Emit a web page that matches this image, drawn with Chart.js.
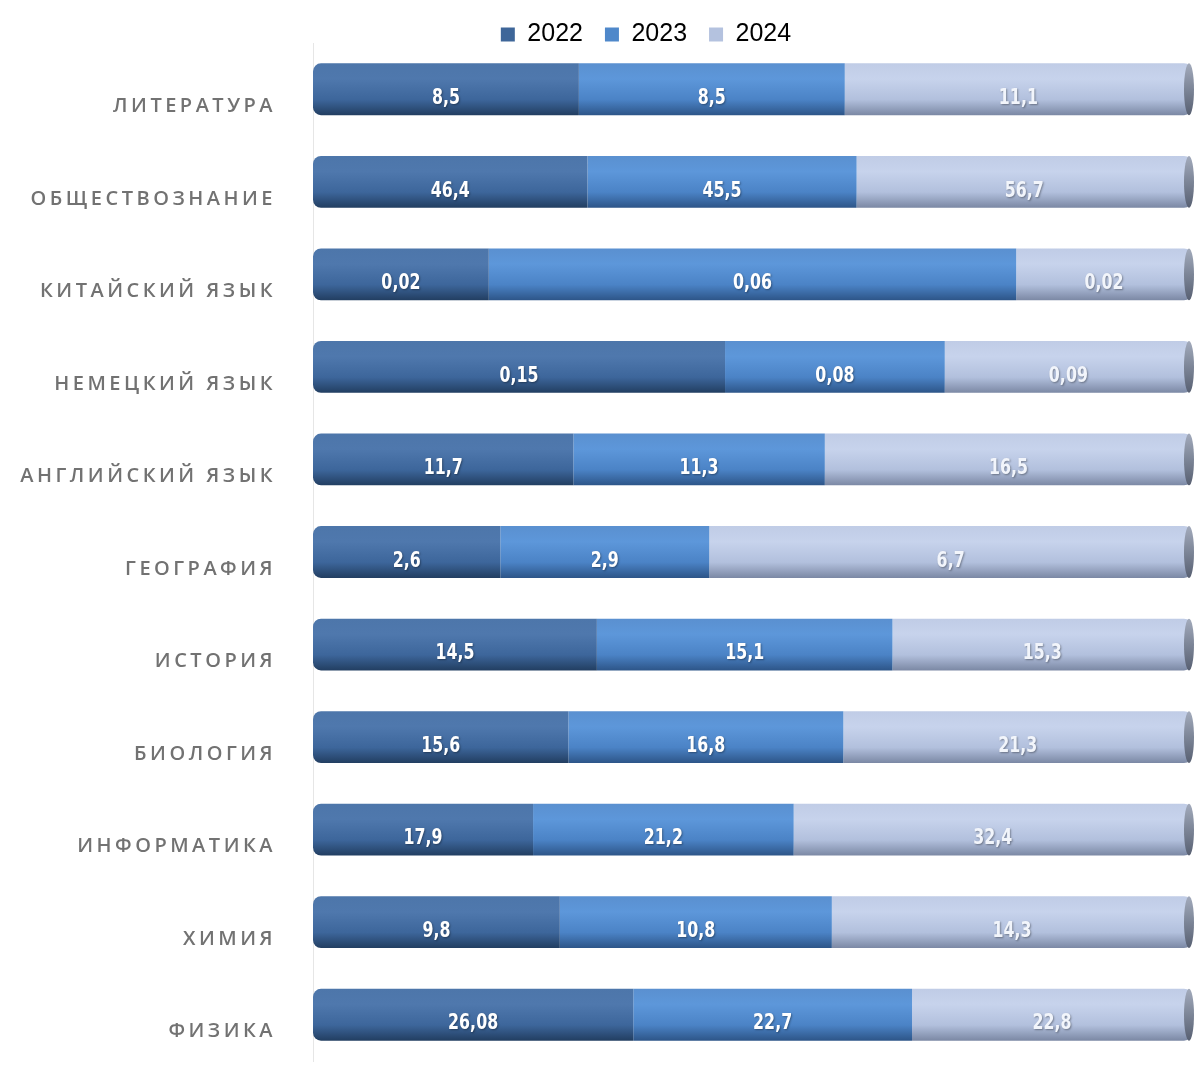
<!DOCTYPE html>
<html>
<head>
<meta charset="utf-8">
<script src="https://cdn.jsdelivr.net/npm/chart.js@4.4.1/dist/chart.umd.min.js"></script>
<style>
  html, body { margin: 0; background: #fff; }
  #wrap { width: 1196px; height: 1070px; }
</style>
</head>
<body>
<div id="wrap"><canvas id="chart"></canvas></div>
<script>
// categories, top to bottom
const subjects = ['ЛИТЕРАТУРА', 'ОБЩЕСТВОЗНАНИЕ', 'КИТАЙСКИЙ ЯЗЫК', 'НЕМЕЦКИЙ ЯЗЫК', 'АНГЛИЙСКИЙ ЯЗЫК',
  'ГЕОГРАФИЯ', 'ИСТОРИЯ', 'БИОЛОГИЯ', 'ИНФОРМАТИКА', 'ХИМИЯ', 'ФИЗИКА'];
const years = ['2022', '2023', '2024'];
const vals2022 = [8.5, 46.4, 0.02, 0.15, 11.7, 2.6, 14.5, 15.6, 17.9, 9.8, 26.08];
const vals2023 = [8.5, 45.5, 0.06, 0.08, 11.3, 2.9, 15.1, 16.8, 21.2, 10.8, 22.7];
const vals2024 = [11.1, 56.7, 0.02, 0.09, 16.5, 6.7, 15.3, 21.3, 32.4, 14.3, 22.8];

const series = [vals2022, vals2023, vals2024];
const totals = subjects.map((_, i) => series.reduce((s, arr) => s + arr[i], 0));

// cylinder-ish shading: edge, highlight, body, dark bottom
const shades = [
  ['#4d76aa', '#4f78ad', '#3d669b', '#223e61'],
  ['#5a90d0', '#5d97da', '#4b83c6', '#2d5588'],
  ['#c0cce6', '#c7d3ec', '#b2c0dd', '#7b88a4']
];
const legendColors = ['#3e6699', '#4f88ca', '#b4c2df'];
const BAR_FRAC = 0.56;

function cylinder(stops) {
  return (ctx) => {
    const chart = ctx.chart;
    const y = chart.scales.y;
    if (!y || !chart.chartArea) return stops[2];
    const c = y.getPixelForValue(ctx.dataIndex);
    const half = Math.abs(y.getPixelForValue(1) - y.getPixelForValue(0)) * BAR_FRAC / 2;
    if (!isFinite(c) || !isFinite(half) || half <= 0) return stops[2];
    const g = chart.ctx.createLinearGradient(0, c - half, 0, c + half);
    g.addColorStop(0, stops[0]);
    g.addColorStop(0.3, stops[1]);
    g.addColorStop(0.7, stops[2]);
    g.addColorStop(1, stops[3]);
    return g;
  };
}

const radii = [
  { topLeft: 8, bottomLeft: 8, topRight: 0, bottomRight: 0 },
  0,
  { topLeft: 0, bottomLeft: 0, topRight: 8, bottomRight: 8 }
];

const fmt = (v) => String(v).replace('.', ',');

// value labels, cylinder caps, letter spacing for the category ticks
const labelsPlugin = {
  id: 'labels',
  beforeDraw(chart) { chart.ctx.letterSpacing = '0px'; },
  afterDatasetsDraw(chart) {
    const ctx = chart.ctx;
    // dark end cap of each cylinder
    chart.getDatasetMeta(2).data.forEach((el) => {
      const rx = 5, ry = el.height / 2;
      ctx.save();
      const g = ctx.createLinearGradient(0, el.y - ry, 0, el.y + ry);
      g.addColorStop(0, '#a3abbc');
      g.addColorStop(0.5, '#7c8597');
      g.addColorStop(1, '#586072');
      ctx.fillStyle = g;
      ctx.beginPath();
      ctx.ellipse(el.x - rx + 2, el.y, rx, ry, 0, 0, Math.PI * 2);
      ctx.fill();
      ctx.restore();
    });

    ctx.save();
    ctx.font = 'bold 22px "Liberation Sans Narrow", "DejaVu Sans Condensed", sans-serif';
    ctx.textAlign = 'center';
    ctx.textBaseline = 'middle';
    ctx.shadowColor = 'rgba(0,0,0,0.35)';
    ctx.shadowBlur = 2;
    ctx.shadowOffsetX = 1;
    ctx.shadowOffsetY = 1;
    chart.data.datasets.forEach((ds, di) => {
      chart.getDatasetMeta(di).data.forEach((el, i) => {
        const p = el.getCenterPoint();
        ctx.save();
        ctx.translate(p.x, p.y + 9);
        ctx.scale(0.8, 1);
        ctx.fillStyle = di === 2 ? '#f2f5fb' : '#ffffff';
        ctx.fillText(fmt(series[di][i]), 0, 0);
        ctx.restore();
      });
    });
    ctx.restore();
    chart.ctx.letterSpacing = '3.5px';
  },
  afterDraw(chart) { chart.ctx.letterSpacing = '0px'; },
  afterLayout(chart) {
    // legend sits a bit right of centre and overlaps the top band
    const lg = chart.legend;
    if (lg) { lg.left += 50; lg.right += 50; lg.top += 14; lg.bottom += 14; }
  }
};

new Chart(document.getElementById('chart'), {
  type: 'bar',
  data: {
    labels: subjects,
    datasets: years.map((yr, di) => ({
      label: yr,
      data: series[di].map((v, i) => v / totals[i] * 100),
      backgroundColor: cylinder(shades[di]),
      borderWidth: 0,
      borderSkipped: false,
      borderRadius: radii[di],
      barPercentage: 0.8,
      categoryPercentage: BAR_FRAC / 0.8
    }))
  },
  options: {
    indexAxis: 'y',
    responsive: true,
    maintainAspectRatio: false,
    animation: false,
    layout: { padding: { top: -14, right: 4, bottom: 9, left: 0 } },
    scales: {
      x: { display: false, stacked: true, min: 0, max: 100 },
      y: {
        stacked: true,
        grid: { display: false, drawTicks: false },
        border: { display: true, color: '#e6e6e6', width: 1 },
        ticks: {
          z: 1,
          padding: 37,
          labelOffset: 17,
          color: '#727272',
          font: { family: '"Open Sans", "DejaVu Sans", sans-serif', size: 20, weight: '600' }
        },
        afterFit(scale) {
          scale.width = 313;
          scale.paddingTop = 0;
          scale.paddingBottom = 0;
        }
      }
    },
    plugins: {
      tooltip: { enabled: false },
      legend: {
        position: 'top',
        labels: {
          boxWidth: 14,
          boxHeight: 14,
          padding: 22,
          color: '#5a5a5a',
          font: { family: '"Liberation Sans", Arial, sans-serif', size: 25 },
          generateLabels: () => years.map((yr, di) => ({
            text: yr,
            fillStyle: legendColors[di],
            strokeStyle: legendColors[di],
            lineWidth: 0,
            datasetIndex: di
          }))
        }
      }
    }
  },
  plugins: [labelsPlugin]
});
</script>
</body>
</html>
